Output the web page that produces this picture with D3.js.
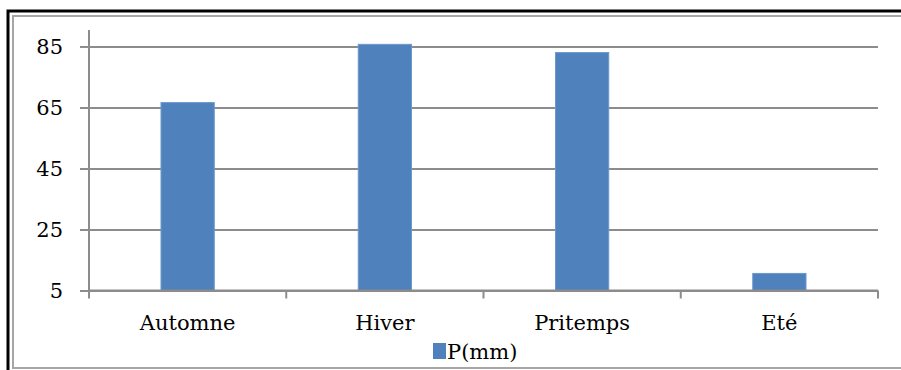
<!DOCTYPE html>
<html>
<head>
<meta charset="utf-8">
<script src="https://cdn.jsdelivr.net/npm/d3@7"></script>
<style>
  body { margin: 0; background: #fff; }
  svg text { font-family: "DejaVu Serif", serif !important; fill: #000; }
</style>
</head>
<body>
<div id="chart"></div>
<script>
const seasons = ["Automne", "Hiver", "Pritemps", "Eté"];
const precip = [66.6, 85.7, 83.0, 10.6];
const yTicks = [5, 25, 45, 65, 85];
const seriesName = "P(mm)";

const width = 901, height = 370;
const margin = { top: 30, right: 23, bottom: 79.5, left: 89 };
const graphWidth = width - margin.left - margin.right;
const graphHeight = height - margin.top - margin.bottom;

const svg = d3.select('#chart').append('svg')
  .attr('width', width)
  .attr('height', height);

// frame: outer black line and inner grey line (cut by the right edge)
svg.append('rect')
  .attr('x', 8).attr('y', 11)
  .attr('width', 905).attr('height', 364)
  .attr('fill', 'none').attr('stroke', '#000').attr('stroke-width', 3);
svg.append('rect')
  .attr('x', 13).attr('y', 16)
  .attr('width', 900).attr('height', 352)
  .attr('fill', '#fff').attr('stroke', '#a6a6a6').attr('stroke-width', 2);

const chart = svg.append('g')
  .attr('transform', `translate(${margin.left},${margin.top})`);

const xScale = d3.scaleBand()
  .domain(seasons)
  .range([0, graphWidth])
  .paddingInner(0.73)
  .paddingOuter(0.365);

const xTickScale = d3.scaleBand()
  .domain(seasons)
  .range([0, graphWidth]);

const yScale = d3.scaleLinear()
  .domain([5, 90.4])
  .range([graphHeight, 0]);

// horizontal grid
const yGrid = d3.axisLeft(yScale).tickValues(yTicks).tickSize(-graphWidth).tickFormat('');
chart.append('g')
  .call(yGrid)
  .call(g => g.select('.domain').remove())
  .call(g => g.selectAll('line').attr('stroke', '#8c8c8c').attr('stroke-width', 2));

// y axis
const yAxis = d3.axisLeft(yScale).tickValues(yTicks).tickSize(9).tickPadding(17).tickSizeOuter(0);
chart.append('g')
  .call(yAxis)
  .call(g => g.select('.domain').attr('stroke', '#8c8c8c').attr('stroke-width', 2)
    .attr('d', `M0,${graphHeight + 8}V0`))
  .call(g => g.selectAll('.tick line').attr('stroke', '#8c8c8c').attr('stroke-width', 2))
  .call(g => g.selectAll('text')
    .style('font-size', '21px')
    .attr('dy', '0.35em'));

// bars
chart.selectAll('.bar')
  .data(seasons)
  .enter()
  .append('rect')
  .attr('class', 'bar')
  .attr('x', d => xScale(d))
  .attr('width', xScale.bandwidth())
  .attr('y', (d, i) => yScale(precip[i]))
  .attr('height', (d, i) => yScale(5) - yScale(precip[i]))
  .attr('fill', '#4f81bd')
  .attr('stroke', '#6c98cc')
  .attr('stroke-width', 1);

// x axis
const xAxis = d3.axisBottom(xTickScale).tickSize(0).tickPadding(25);
const xg = chart.append('g')
  .attr('transform', `translate(0,${graphHeight})`)
  .call(xAxis)
  .call(g => g.select('.domain').attr('stroke', '#8c8c8c').attr('stroke-width', 2)
    .attr('d', `M0,0H${graphWidth}`))
  .call(g => g.selectAll('text')
    .style('font-size', '21px'));

// category separators
xg.selectAll('.sep')
  .data(seasons)
  .enter()
  .append('line')
  .attr('class', 'sep')
  .attr('x1', d => xTickScale(d) + xTickScale.bandwidth())
  .attr('x2', d => xTickScale(d) + xTickScale.bandwidth())
  .attr('y1', 0).attr('y2', 8)
  .attr('stroke', '#8c8c8c').attr('stroke-width', 2);

// legend
const legend = svg.append('g').attr('transform', 'translate(433,343)');
legend.append('rect')
  .attr('width', 13).attr('height', 16)
  .attr('fill', '#4f81bd');
legend.append('text')
  .attr('x', 14).attr('y', 16)
  .style('font-size', '21px')
  .text(seriesName);
</script>
</body>
</html>
